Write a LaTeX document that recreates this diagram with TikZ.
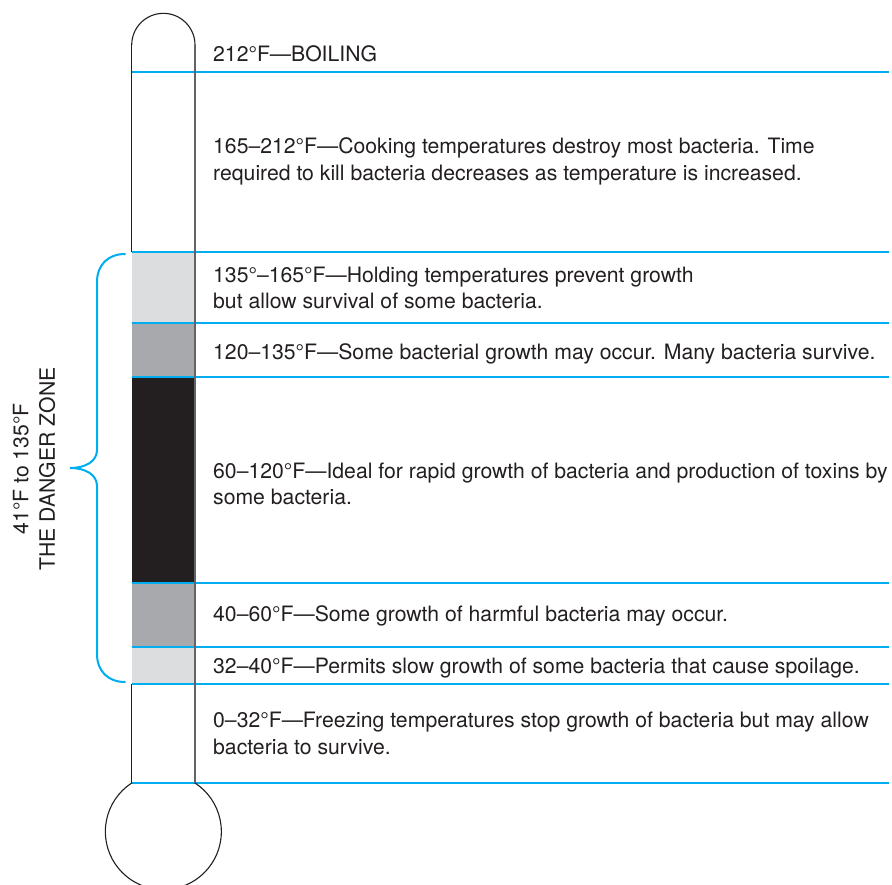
\documentclass[tikz,border=0pt]{standalone}
\usepackage{fontspec}
\setmainfont{TeX Gyre Heros}
\definecolor{zoneblue}{RGB}{0,174,239}
\definecolor{ink}{RGB}{35,31,32}
\definecolor{bandlight}{RGB}{220,221,223}
\definecolor{bandmid}{RGB}{167,169,172}
\definecolor{banddark}{RGB}{35,31,32}
\definecolor{tubeedge}{RGB}{100,100,100}
\begin{document}
\begin{tikzpicture}[x=1pt,y=-1pt,
  lbl/.style={anchor=base west, inner sep=0pt, text=ink,
    font=\fontsize{21.2}{26.5}\selectfont},
  zoneline/.style={draw=zoneblue, line width=1.3pt},
  bracepath/.style={draw=zoneblue, line width=2pt, line cap=round},
  glass/.style={draw=ink, line width=1.1pt},
  glassright/.style={draw=tubeedge, line width=1.1pt}]
\useasboundingbox (0,0) rectangle (892,885);

% coloured bands inside the tube
\fill[bandlight] (131.7,252) rectangle (195,323);
\fill[bandmid]   (131.7,323) rectangle (195,377);
\fill[banddark]  (131.7,377) rectangle (195,583);
\fill[bandmid]   (131.7,583) rectangle (195,647);
\fill[bandlight] (131.7,647) rectangle (195,684);

% temperature divisions
\foreach \yy in {72,252,323,377,583,647,684,783}
  \draw[zoneline] (131.7,\yy) -- (889,\yy);

% thermometer tube
\begin{scope}
  \clip (0,0) rectangle (892,45);
  \draw[glass] (163.35,45) circle[radius=31.65pt];
\end{scope}
\draw[glass] (131.7,45) -- (131.7,252);
\draw[glass] (131.7,684) -- (131.7,783);
\draw[glassright] (195,45) -- (195,783);

% bulb
\begin{scope}
  \clip (0,783) rectangle (892,885);
  \draw[glass] (163.35,831.6) circle[radius=58pt];
\end{scope}

% danger zone brace
\draw[bracepath] (125,254) .. controls (108,254) and (97,265) .. (97,282)
  -- (97,450) .. controls (97,461) and (86,468) .. (70,468)
  .. controls (86,468) and (97,475) .. (97,486)
  -- (97,654) .. controls (97,671) and (108,682) .. (125,682);

\node[text=ink, inner sep=0pt, rotate=90, align=center,
  font=\fontsize{21.2}{26.5}\selectfont] (dz) at (34,469)
  {41°F to 135°F\\THE DANGER ZONE};

% labels
\node[lbl] (t1)  at (213,62)  {212°F—BOILING};
\node[lbl] (t2a) at (213,154) {165–212°F—Cooking temperatures destroy most bacteria. Time};
\node[lbl] (t2b) at (213,181) {required to kill bacteria decreases as temperature is increased.};
\node[lbl] (t3a) at (213,283) {135°–165°F—Holding temperatures prevent growth};
\node[lbl] (t3b) at (213,309) {but allow survival of some bacteria.};
\node[lbl] (t4)  at (213,360) {120–135°F—Some bacterial growth may occur. Many bacteria survive.};
\node[lbl] (t5a) at (213,478) {60–120°F—Ideal for rapid growth of bacteria and production of toxins by};
\node[lbl] (t5b) at (213,504) {some bacteria.};
\node[lbl] (t6)  at (213,621) {40–60°F—Some growth of harmful bacteria may occur.};
\node[lbl] (t7)  at (213,673) {32–40°F—Permits slow growth of some bacteria that cause spoilage.};
\node[lbl] (t8a) at (213,727) {0–32°F—Freezing temperatures stop growth of bacteria but may allow};
\node[lbl] (t8b) at (213,754) {bacteria to survive.};
\end{tikzpicture}
\end{document}
